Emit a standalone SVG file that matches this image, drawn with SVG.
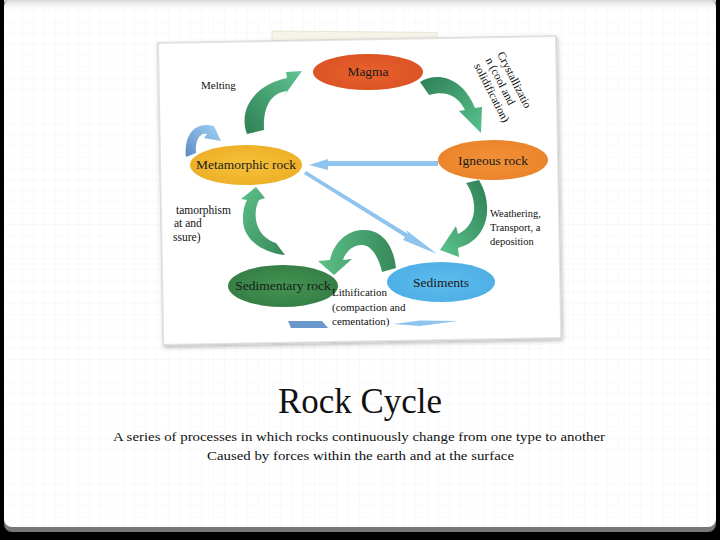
<svg xmlns="http://www.w3.org/2000/svg" width="720" height="540" viewBox="0 0 720 540">
<defs>
<pattern id="grid" width="11.25" height="11.25" patternUnits="userSpaceOnUse">
<path d="M11.25 0 V11.25 M0 11.25 H11.25" fill="none" stroke="#f3f3f3" stroke-width="1"/>
</pattern>
<linearGradient id="topShade" x1="0" y1="0" x2="0" y2="1">
<stop offset="0" stop-color="#d8d8d8"/><stop offset="1" stop-color="#ffffff" stop-opacity="0"/>
</linearGradient>
<linearGradient id="botBar" x1="0" y1="0" x2="0" y2="1">
<stop offset="0" stop-color="#b0b0b0"/><stop offset="1" stop-color="#777"/>
</linearGradient>
<linearGradient id="gMelt" x1="0" y1="1" x2="1" y2="0"><stop offset="0" stop-color="#2e8055"/><stop offset="1" stop-color="#5fc491"/></linearGradient>
<linearGradient id="gCrys" x1="0" y1="0" x2="1" y2="1"><stop offset="0" stop-color="#2e8055"/><stop offset="1" stop-color="#58c28c"/></linearGradient>
<linearGradient id="gWeat" x1="1" y1="0" x2="0" y2="1"><stop offset="0" stop-color="#2e8055"/><stop offset="1" stop-color="#5cc48e"/></linearGradient>
<linearGradient id="gLith" x1="1" y1="0" x2="0" y2="0"><stop offset="0" stop-color="#37885a"/><stop offset="1" stop-color="#5cc087"/></linearGradient>
<linearGradient id="gMeta" x1="1" y1="1" x2="0" y2="0"><stop offset="0" stop-color="#37885a"/><stop offset="1" stop-color="#5cc08a"/></linearGradient>
<linearGradient id="gBlue" x1="0" y1="1" x2="1" y2="0"><stop offset="0" stop-color="#5b8cc4"/><stop offset="1" stop-color="#a3d2f6"/></linearGradient>
<radialGradient id="rMagma"><stop offset="0" stop-color="#e8612d"/><stop offset="1" stop-color="#dc5424"/></radialGradient>
<radialGradient id="rIgn"><stop offset="0" stop-color="#f29138"/><stop offset="1" stop-color="#eb852b"/></radialGradient>
<radialGradient id="rMeta"><stop offset="0" stop-color="#f6c23a"/><stop offset="1" stop-color="#eeb028"/></radialGradient>
<radialGradient id="rSed"><stop offset="0" stop-color="#449552"/><stop offset="1" stop-color="#367f46"/></radialGradient>
<radialGradient id="rSedi"><stop offset="0" stop-color="#5cbcee"/><stop offset="1" stop-color="#4fb0e6"/></radialGradient>
<filter id="shadow" x="-5%" y="-5%" width="110%" height="110%">
<feDropShadow dx="1" dy="2" stdDeviation="2" flood-color="#000" flood-opacity="0.3"/>
</filter>
</defs>
<style>
.lbl{font-family:"Liberation Serif","Times New Roman",serif;fill:#111;}
.node{font-family:"Liberation Serif","Times New Roman",serif;fill:#1a1a1a;text-anchor:middle;font-size:13.5px;}
.cap{font-family:"Liberation Serif","Times New Roman",serif;fill:#111;}
.blue{fill:#8fc4ef;}
</style>

<!-- slide -->
<rect x="0" y="0" width="720" height="540" fill="#000"/>
<rect x="4" y="0" width="712" height="532" rx="8" fill="url(#botBar)"/>
<rect x="4" y="0" width="712" height="527" rx="8" fill="#fff"/>
<rect x="4" y="0" width="712" height="527" rx="8" fill="url(#grid)"/>
<rect x="4" y="0" width="712" height="12" fill="url(#topShade)"/>

<!-- tape -->
<rect x="272" y="31" width="165" height="10" fill="#f6f4e8" stroke="#e4e1cf" stroke-width="0.8" transform="rotate(0.5 272 31)"/>

<!-- photo card -->
<rect x="158" y="43" width="398" height="302" fill="#fff" stroke="#c8c8c8" stroke-width="1" filter="url(#shadow)" transform="rotate(-1 158 43)"/>

<!-- connectors -->
<g id="connectors">
<path id="arrow-melting" d="M247,134 C238,110 254,85 287,78 L286,72 L302,71 L284,96 L287,91 C270,93 263,108 264,130 Z" fill="url(#gMelt)"/>
<path id="arrow-crystallization" d="M420,82 C438,71 463,78 475,108 L482,107 L481,133 L459,111 L465,110 C458,96 446,90 429,95 Z" fill="url(#gCrys)"/>
<path id="arrow-weathering" d="M466,183 C478,200 478,225 458,234 L456,226 L440,250 L459,257 L458,248 C489,240 494,205 479,180 Z" fill="url(#gWeat)"/>
<path id="arrow-lithification" d="M396,268 C393,240 378,229 362,230 C345,231 333,245 330,260 L318,261 L334,275 L352,259 L343,260 C346,250 355,244 363,245 C372,246 379,258 382,272 Z" fill="url(#gLith)"/>
<path id="arrow-metamorphism" d="M285,255 C260,252 242,238 243,218 C243,210 245,204 247,200 L241,199 L256,187 L265,198 L259,200 C256,206 255,212 256,220 C258,232 266,240 276,243 Z" fill="url(#gMeta)"/>
<path id="arrow-blue-loop" d="M186,157 C184,138 192,124 208,125 L214,126 L221,141 L204,138 L207,134 C200,132 195,140 196,153 Z" fill="url(#gBlue)"/>
<path id="arrow-igneous-metamorphic" class="blue" d="M438,161 L328,161 L328,159 L309,165 L328,170 L328,166 L438,166 Z"/>
<path id="arrow-metamorphic-sediments" class="blue" d="M306,171 L408,234 L406,230 L437,254 L403,240 L405,237 L304,174 Z"/>
<path d="M288,321 L322,321 L328,328 L291,328 Z" fill="#6a98cc"/>
<path d="M393,324 L420,320.5 L458,321 L420,326 Z" fill="#8fc4ef"/>
</g>

<!-- nodes -->
<g id="node-magma">
<ellipse cx="368" cy="72" rx="55" ry="18" fill="url(#rMagma)"/>
<text class="node" x="368" y="76" font-size="12.5">Magma</text>
</g>
<g id="node-igneous">
<ellipse cx="493" cy="160" rx="55" ry="20" fill="url(#rIgn)"/>
<text class="node" x="493" y="165">Igneous rock</text>
</g>
<g id="node-metamorphic">
<ellipse cx="246" cy="165" rx="56" ry="20" fill="url(#rMeta)"/>
<text class="node" x="246" y="169">Metamorphic rock</text>
</g>
<g id="node-sedimentary">
<ellipse cx="283" cy="286" rx="55" ry="21" fill="url(#rSed)"/>
<text class="node" x="283" y="290">Sedimentary rock</text>
</g>
<g id="node-sediments">
<ellipse cx="441" cy="282" rx="54" ry="20" fill="url(#rSedi)"/>
<text class="node" x="441" y="287">Sediments</text>
</g>

<!-- labels -->
<g id="labels">
<text class="lbl" x="201" y="89" font-size="11">Melting</text>
<text class="lbl" font-size="11.5" transform="translate(497 54) rotate(63)"><tspan x="0" y="0">Crystallizatio</tspan><tspan x="0" y="13">n (cool and</tspan><tspan x="0" y="26">solidification)</tspan></text>
<text class="lbl" font-size="10.5"><tspan x="490" y="217">Weathering,</tspan><tspan x="490" y="231">Transport, a</tspan><tspan x="490" y="245">deposition</tspan></text>
<text class="lbl" font-size="11"><tspan x="332" y="296">Lithification</tspan><tspan x="332" y="311">(compaction and</tspan><tspan x="332" y="325">cementation)</tspan></text>
<text class="lbl" font-size="11.5"><tspan x="176" y="214">tamorphism</tspan><tspan x="174" y="227">at and</tspan><tspan x="173" y="241">ssure)</tspan></text>
</g>

<!-- title -->
<text class="cap" x="278" y="413" font-size="35" textLength="164" lengthAdjust="spacingAndGlyphs" fill="#222">Rock Cycle</text>
<text class="cap" x="113" y="441" font-size="13" textLength="492" lengthAdjust="spacingAndGlyphs">A series of processes in which rocks continuously change from one type to another</text>
<text class="cap" x="207" y="460" font-size="13" textLength="307" lengthAdjust="spacingAndGlyphs">Caused by forces within the earth and at the surface</text>
</svg>
